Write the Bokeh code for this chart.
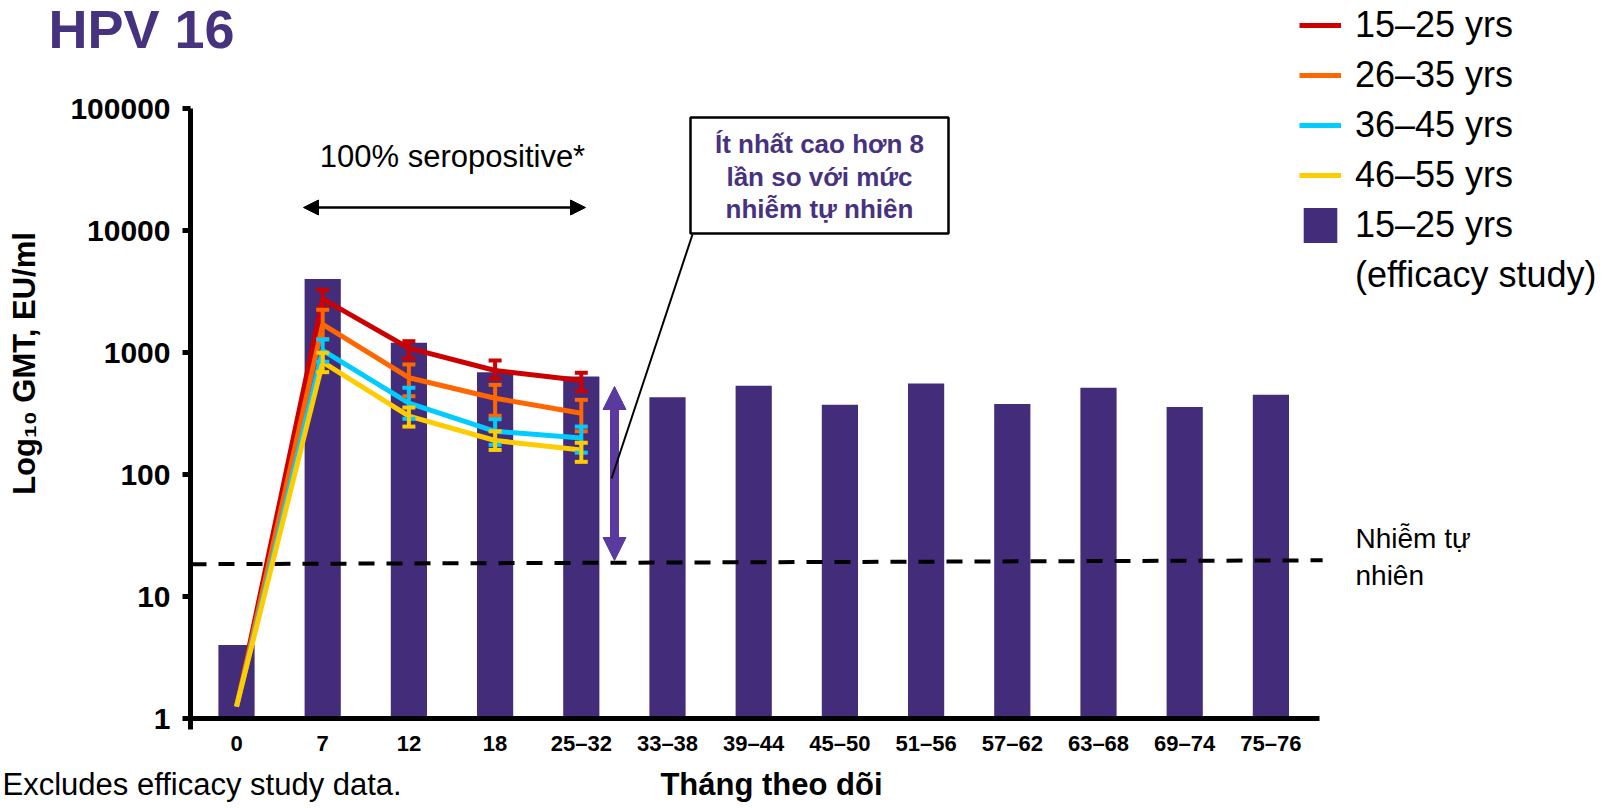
import numpy as np
from bokeh.plotting import figure
from bokeh.models import (Range1d, FixedTicker, NumeralTickFormatter, Label, Arrow,
                          NormalHead, Whisker, TeeHead, ColumnDataSource, Legend, LegendItem,
                          BoxAnnotation)
from bokeh.embed import file_html
from bokeh.resources import INLINE

# ---------------- data ----------------
categories = ["0", "7", "12", "18", "25–32", "33–38", "39–44", "45–50",
              "51–56", "57–62", "63–68", "69–74", "75–76"]
efficacy_gmt = [4.0, 4000, 1200, 690, 636, 430, 533, 373, 557, 378, 515, 357, 450]

line_categories = ["0", "7", "12", "18", "25–32"]
gmt_15_25 = [1.25, 2750, 1085, 712, 590]
gmt_26_35 = [1.25, 1700, 621, 422, 318]
gmt_36_45 = [1.25, 1040, 384, 226, 199]
gmt_46_55 = [1.25, 832, 301, 190, 159]

err_categories = ["7", "12", "18", "25–32"]
lo_15_25 = [2320, 888, 609, 482]
hi_15_25 = [3265, 1238, 860, 682]
lo_26_35 = [1290, 438, 303, 226]
hi_26_35 = [2240, 798, 543, 409]
lo_36_45 = [840, 286, 175, 151]
hi_36_45 = [1278, 514, 284, 247]
lo_46_55 = [690, 247, 159, 127]
hi_46_55 = [995, 354, 226, 182]

# natural-infection reference level (left end, right end of the dashed line)
natural_infection = [18.4, 19.8]

y_ticks = [1, 10, 100, 1000, 10000, 100000]

series_labels = ["15–25 yrs", "26–35 yrs", "36–45 yrs", "46–55 yrs"]
series_colors = ["#CC0000", "#FF6600", "#00CCFF", "#FFCC00"]
bar_color = "#432D7A"
purple_text = "#46327E"
purple_arrow = "#5B3AA0"
FONT = "Liberation Sans"

W, H = 1610, 808

# ------------- pixel -> data helpers (for annotation placement) -------------
X0_PX, STEP = 236.0, 86.2      # pixel of category 0, pixels per category
Y1_PX, DECADE = 718.0, 122.0   # pixel of GMT = 1, pixels per decade
def X(px):
    return (px - X0_PX) / STEP
def Y(py):
    return 10 ** ((Y1_PX - py) / DECADE)

cat_index = {c: i for i, c in enumerate(categories)}
bar_x = [cat_index[c] for c in categories]
line_x = [cat_index[c] for c in line_categories]
err_x = [cat_index[c] for c in err_categories]

x_axis_start = X(190)
x_axis_end = X(1319)

p = figure(width=W, height=H, y_axis_type="log",
           x_range=Range1d(X(0), X(W)), y_range=Range1d(Y(H), Y(0)),
           output_backend="svg", toolbar_location=None,
           min_border_left=0, min_border_right=0, min_border_top=0, min_border_bottom=0)
p.title.visible = False
p.outline_line_color = None
p.xgrid.visible = False
p.ygrid.visible = False
p.background_fill_color = "white"
p.border_fill_color = "white"

# axes (pinned to data locations)
p.yaxis.fixed_location = x_axis_start
p.yaxis.bounds = (Y(729), y_ticks[-1])
p.yaxis.ticker = FixedTicker(ticks=y_ticks, minor_ticks=[])
p.yaxis.formatter = NumeralTickFormatter(format="0")
p.yaxis.axis_line_width = 5
p.yaxis.major_tick_line_width = 5
p.yaxis.major_tick_out = 8
p.yaxis.major_tick_in = 0
p.yaxis.minor_tick_line_color = None
p.yaxis.major_label_text_font = FONT
p.yaxis.major_label_text_font_style = "bold"
p.yaxis.major_label_text_font_size = "30px"
p.yaxis.major_label_text_color = "black"
p.yaxis.major_label_standoff = 12

p.xaxis.fixed_location = 1
p.xaxis.bounds = (x_axis_start, x_axis_end)
p.xaxis.ticker = FixedTicker(ticks=bar_x, minor_ticks=[])
p.xaxis.major_label_overrides = {i: c for i, c in enumerate(categories)}
p.xaxis.axis_line_width = 5
p.xaxis.major_tick_line_color = None
p.xaxis.minor_tick_line_color = None
p.xaxis.major_label_text_font = FONT
p.xaxis.major_label_text_font_style = "bold"
p.xaxis.major_label_text_font_size = "22px"
p.xaxis.major_label_text_color = "black"
p.xaxis.major_label_standoff = 6

# bars
bars = p.vbar(x=bar_x, top=efficacy_gmt, bottom=1, width=0.42,
              fill_color=bar_color, line_color=None)

# natural infection reference line
p.line(x=[x_axis_start, len(categories) - 0.4], y=natural_infection,
       line_color="black", line_width=4, line_dash="16 12")

# lines + error bars
series_vals = [gmt_15_25, gmt_26_35, gmt_36_45, gmt_46_55]
series_lo = [lo_15_25, lo_26_35, lo_36_45, lo_46_55]
series_hi = [hi_15_25, hi_26_35, hi_36_45, hi_46_55]
line_renderers = []
for vals, col in zip(series_vals, series_colors):
    r = p.line(x=line_x, y=vals, line_color=col, line_width=5)
    line_renderers.append(r)
for lo, hi, col in zip(series_lo, series_hi, series_colors):
    src = ColumnDataSource(dict(base=err_x, lower=lo, upper=hi))
    p.add_layout(Whisker(source=src, base="base", lower="lower", upper="upper",
                         line_color=col, line_width=4, level="annotation",
                         upper_head=TeeHead(size=13, line_color=col, line_width=4),
                         lower_head=TeeHead(size=13, line_color=col, line_width=4)))

# invisible renderer for the second legend line
blank = p.line(x=[], y=[], line_alpha=0)

legend = Legend(items=[LegendItem(label=series_labels[i], renderers=[line_renderers[i]]) for i in range(4)]
                + [LegendItem(label="15–25 yrs", renderers=[bars]),
                   LegendItem(label="(efficacy study)", renderers=[blank])],
                location=(1299, 511), orientation="vertical",
                glyph_width=42, glyph_height=44, label_height=44, spacing=6,
                padding=0, margin=0, label_standoff=14,
                label_text_font=FONT, label_text_font_size="36px", label_text_color="black",
                border_line_color=None, background_fill_alpha=0)
p.add_layout(legend)

# seropositive arrow and label
p.add_layout(Arrow(x_start=X(303), y_start=Y(207), x_end=X(585), y_end=Y(207),
                   line_width=2.5, line_color="black",
                   start=NormalHead(size=15, fill_color="black", line_color="black"),
                   end=NormalHead(size=15, fill_color="black", line_color="black")))
p.add_layout(Label(x=X(452), y=Y(156), text="100% seropositive*", text_font=FONT,
                   text_font_size="31px", text_align="center", text_baseline="middle",
                   text_color="black"))

# purple double arrow
p.add_layout(Arrow(x_start=X(614), y_start=Y(560), x_end=X(614), y_end=Y(386),
                   line_width=9, line_color=purple_arrow,
                   start=NormalHead(size=23, fill_color=purple_arrow, line_color=purple_arrow),
                   end=NormalHead(size=23, fill_color=purple_arrow, line_color=purple_arrow)))

# callout leader line and box
p.add_layout(Arrow(x_start=X(692), y_start=Y(234), x_end=X(611), y_end=Y(478),
                   line_width=2, line_color="black", end=None))
p.add_layout(BoxAnnotation(left=X(690), right=X(948), top=Y(117), bottom=Y(233),
                           fill_color="white", fill_alpha=1.0, line_color="black",
                           line_width=2.5, line_alpha=1.0))
for txt, py in [("Ít nhất cao hơn 8", 143), ("lần so với mức", 176), ("nhiễm tự nhiên", 208)]:
    p.add_layout(Label(x=X(819), y=Y(py), text=txt, text_font=FONT, text_font_style="bold",
                       text_font_size="26px", text_align="center", text_baseline="middle",
                       text_color=purple_text))

# natural infection label
p.add_layout(Label(x=X(1355), y=Y(538), text="Nhiễm tự", text_font=FONT, text_font_size="28px",
                   text_align="left", text_baseline="middle", text_color="black"))
p.add_layout(Label(x=X(1355), y=Y(575), text="nhiên", text_font=FONT, text_font_size="28px",
                   text_align="left", text_baseline="middle", text_color="black"))

# title
p.add_layout(Label(x=X(48), y=Y(28), text="HPV 16", text_font=FONT, text_font_style="bold",
                   text_font_size="54px", text_align="left", text_baseline="middle",
                   text_color=purple_text))

# axis titles
p.add_layout(Label(x=X(24), y=Y(363), text="Log₁₀ GMT, EU/ml", text_font=FONT,
                   text_font_style="bold", text_font_size="31px", angle=np.pi / 2,
                   text_align="center", text_baseline="middle", text_color="black"))
p.add_layout(Label(x=X(771), y=Y(784), text="Tháng theo dõi", text_font=FONT,
                   text_font_style="bold", text_font_size="31px", text_align="center",
                   text_baseline="middle", text_color="black"))

# footnote
p.add_layout(Label(x=X(2), y=Y(784), text="Excludes efficacy study data.", text_font=FONT,
                   text_font_size="31px", text_align="left", text_baseline="middle",
                   text_color="black"))

open("out.html", "w").write(file_html(p, INLINE))
